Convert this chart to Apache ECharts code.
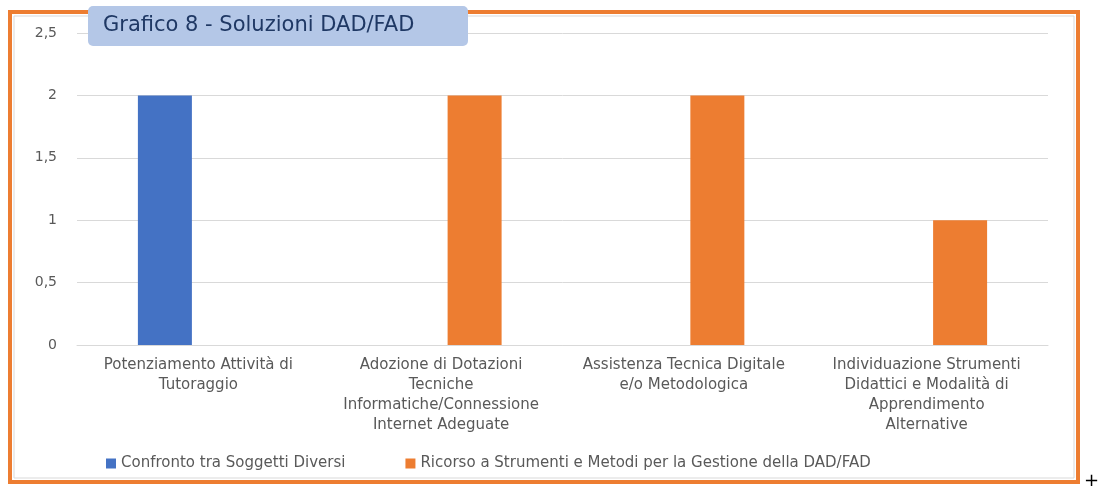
<!DOCTYPE html>
<html><head><meta charset="utf-8">
<script src="https://cdn.jsdelivr.net/npm/echarts@6/dist/echarts.min.js"></script>
<style>html,body{margin:0;padding:0;background:#fff}#c{width:1101px;height:488px}</style>
</head><body><div id="c"></div>
<script>
const titleText = 'Grafico 8 - Soluzioni DAD/FAD';
const categories = [
  'Potenziamento Attività di\nTutoraggio',
  'Adozione di Dotazioni\nTecniche\nInformatiche/Connessione\nInternet Adeguate',
  'Assistenza Tecnica Digitale\ne/o Metodologica',
  'Individuazione Strumenti\nDidattici e Modalità di\nApprendimento\nAlternative'
];
const seriesNames = ['Confronto tra Soggetti Diversi', 'Ricorso a Strumenti e Metodi per la Gestione della DAD/FAD'];
const confronto = [2, null, null, null];
const ricorso = [null, 2, 2, 1];

const FONT = 'DejaVu Sans';
const chart = echarts.init(document.getElementById('c'), null, {renderer: 'canvas'});
chart.setOption({
  animation: false,
  textStyle: {fontFamily: FONT},
  graphic: [
    {type: 'rect', z: 0, shape: {x: 10, y: 12, width: 1068, height: 470}, style: {fill: '#fff', stroke: '#ed7d31', lineWidth: 4}},
    {type: 'rect', z: 1, shape: {x: 14, y: 16, width: 1060, height: 462}, style: {fill: 'none', stroke: '#d9d9d9', lineWidth: 1}},
    {type: 'rect', z: 10, shape: {x: 88, y: 6, width: 380, height: 40, r: 5}, style: {fill: '#b4c7e7'}},
    {type: 'text', z: 11, left: 103, top: 15, style: {text: titleText, fill: '#1f3864', font: '21px "' + FONT + '"'}},
    {type: 'text', z: 11, left: 1084, top: 472, style: {text: '+', fill: '#000', font: '18px "' + FONT + '"'}}
  ],
  grid: {left: 77, right: 53, top: 33, bottom: 143, containLabel: false},
  legend: {
    left: 101, top: 451, itemWidth: 10, itemHeight: 10, itemGap: 60, icon: 'rect',
    textStyle: {color: '#595959', fontSize: 15, fontFamily: FONT},
    data: seriesNames
  },
  xAxis: {
    type: 'category', data: categories,
    axisLine: {lineStyle: {color: '#d9d9d9'}},
    axisTick: {show: false},
    axisLabel: {color: '#595959', fontSize: 15, lineHeight: 20, interval: 0, margin: 10, fontFamily: FONT}
  },
  yAxis: {
    type: 'value', min: 0, max: 2.5, interval: 0.5,
    axisLine: {show: false}, axisTick: {show: false},
    splitLine: {lineStyle: {color: '#d9d9d9'}},
    axisLabel: {color: '#595959', fontSize: 14, margin: 20, fontFamily: FONT,
      formatter: v => String(v).replace('.', ',')}
  },
  series: [
    {name: seriesNames[0], type: 'bar', data: confronto, barWidth: 54, barGap: '24%', itemStyle: {color: '#4472c4'}},
    {name: seriesNames[1], type: 'bar', data: ricorso, barWidth: 54, itemStyle: {color: '#ed7d31'}}
  ]
});
</script></body></html>
